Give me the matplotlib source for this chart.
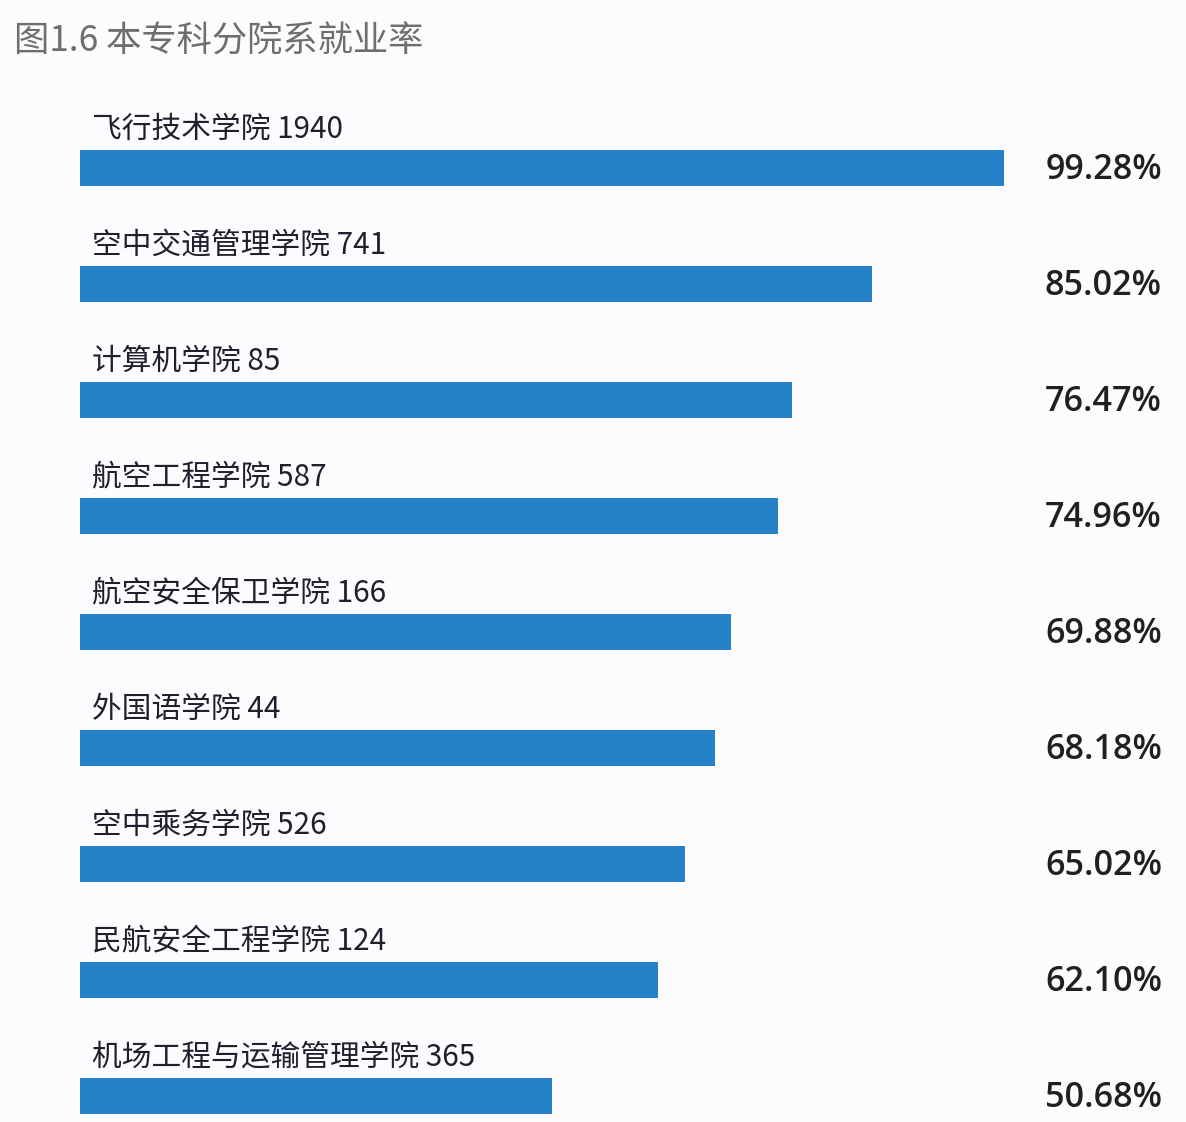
import matplotlib
matplotlib.use("Agg")
import matplotlib.pyplot as plt

plt.rcParams['font.family'] = ['Noto Sans CJK SC', 'DejaVu Sans']

title = "图1.6 本专科分院系就业率"
colleges = ["飞行技术学院", "空中交通管理学院", "计算机学院", "航空工程学院", "航空安全保卫学院",
            "外国语学院", "空中乘务学院", "民航安全工程学院", "机场工程与运输管理学院"]
counts = [1940, 741, 85, 587, 166, 44, 526, 124, 365]
rates = [99.28, 85.02, 76.47, 74.96, 69.88, 68.18, 65.02, 62.10, 50.68]

W, H = 1186, 1122
fig = plt.figure(figsize=(W / 100, H / 100), dpi=100)
fig.patch.set_facecolor('#fcfcfe')

left_px = 80
px_per_pct = 9.31
ax = fig.add_axes([left_px / W, 0, 1 - left_px / W, 1])
ax.set_facecolor('none')
ax.set_xlim(0, (W - left_px) / px_per_pct)
ax.set_ylim(H, 0)
ax.axis('off')

first_center = 168
step = 116
bar_h = 36
ys = [first_center + step * i for i in range(len(rates))]

ax.barh(ys, rates, height=bar_h, color='#2581c8', left=0)

for y, name, cnt, r in zip(ys, colleges, counts, rates):
    ax.text(12 / px_per_pct, y - 39, f"{name} {cnt}", fontsize=21.4, color='#1f1f2e',
            va='center', ha='left')
    ax.text((1162 - left_px) / (W - left_px), y + 2, f"{r:.2f}%", transform=ax.get_yaxis_transform(),
            fontsize=24.6, fontweight='semibold', color='#231f20', va='center', ha='right',
            family=['Open Sans', 'DejaVu Sans'])

fig.text(14 / W, 1 - 42 / H, title, fontsize=25.4, color='#6e6e6e', fontweight='medium',
         va='center', ha='left')

fig.savefig("out.png", dpi=100, facecolor=fig.get_facecolor())
